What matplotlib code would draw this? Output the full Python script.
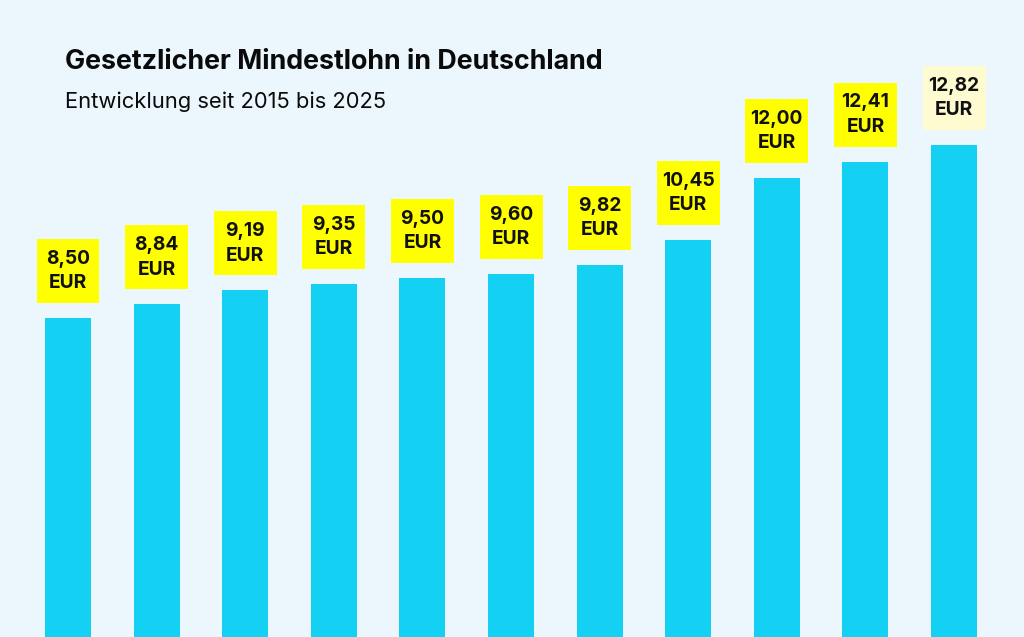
"""Gesetzlicher Mindestlohn in Deutschland, 2015-2025."""

import matplotlib
matplotlib.use('Agg')
import matplotlib.pyplot as plt
from matplotlib.patches import Rectangle

years = ['2015', '2017', '2019', '2020', '2021', '2022a', '2022b', '2022c', '2023', '2024', '2025']
wages = [8.50, 8.84, 9.19, 9.35, 9.50, 9.60, 9.82, 10.45, 12.00, 12.41, 12.82]
labels = [f'{w:.2f}'.replace('.', ',') + '\nEUR' for w in wages]

BG = '#EBF7FD'
BAR = '#14D0F2'
YELLOW = '#FFFF00'
PALE = '#FFFBD1'

plt.rcParams['font.family'] = ['Inter', 'DejaVu Sans']

fig = plt.figure(figsize=(10.24, 6.37), dpi=100, facecolor=BG)
ax = fig.add_axes([0, 0, 1, 1])
ax.set_facecolor(BG)

x = list(range(len(wages)))
ax.bar(x, wages, width=0.52, color=BAR, linewidth=0)

# label boxes: fixed size, sitting a little above each bar
box_w, box_h, gap = 0.711, 1.6, 0.375
for i, (w, lab) in enumerate(zip(wages, labels)):
    fc = PALE if i == len(wages) - 1 else YELLOW
    ax.add_patch(Rectangle((i - box_w / 2, w + gap), box_w, box_h,
                           facecolor=fc, edgecolor='none', zorder=3))
    ax.text(i, w + gap + box_h / 2, lab, ha='center', va='center',
            fontsize=13.8, fontweight='bold', color='#111111',
            linespacing=1.45, zorder=4)

ax.set_xlim(-0.7675, 10.79)
ax.set_ylim(0.525, 16.45)
ax.axis('off')

fig.text(65 / 1024, 1 - 69 / 637, 'Gesetzlicher Mindestlohn in Deutschland',
         fontsize=19.3, fontweight='bold', color='#0a0a0a', va='baseline')
fig.text(65 / 1024, 1 - 108 / 637, 'Entwicklung seit 2015 bis 2025',
         fontsize=15.8, color='#0a0a0a', va='baseline')

fig.savefig('out.png', dpi=100, facecolor=BG)
plt.close(fig)
